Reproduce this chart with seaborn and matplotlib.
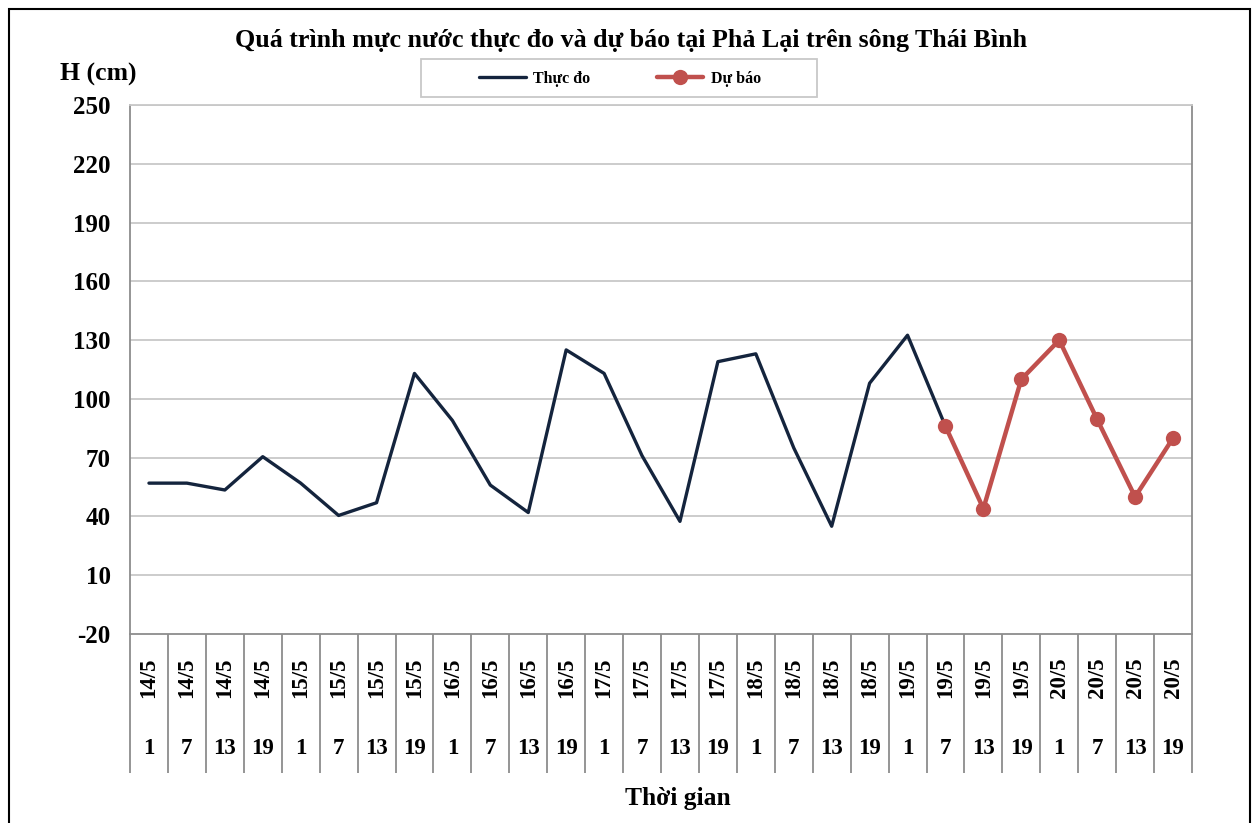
import matplotlib
matplotlib.use("Agg")
import matplotlib.pyplot as plt
import matplotlib.transforms as mtransforms
from matplotlib.patches import Rectangle
import seaborn as sns
import pandas as pd

# -----------------------------
# Data
# -----------------------------
dates = ["14/5"] * 4 + ["15/5"] * 4 + ["16/5"] * 4 + ["17/5"] * 4 + \
        ["18/5"] * 4 + ["19/5"] * 4 + ["20/5"] * 4
hours = ["1", "7", "13", "19"] * 7

observed = [57, 57, 53.5, 70.5, 57, 40.5, 47, 113, 89, 56, 42, 125,
            113, 71, 37.5, 119, 123, 75, 35, 108, 132.5, 86]
forecast = [86, 44, 110, 130, 89.5, 50, 80]

y_ticks = list(range(-20, 251, 30))

obs_df = pd.DataFrame({"pos": range(len(observed)), "H": observed})
fc_start = len(observed) - 1
fc_df = pd.DataFrame({"pos": range(fc_start, fc_start + len(forecast)), "H": forecast})

sns.set_style("white")
plt.rcParams["font.family"] = ["Liberation Serif", "DejaVu Serif"]
plt.rcParams["font.weight"] = "bold"
plt.rcParams["text.color"] = "black"
plt.rcParams["ytick.color"] = "black"

W, H = 1259, 823
fig = plt.figure(figsize=(W / 100, H / 100), dpi=100)
ax = fig.add_axes([130 / W, 1 - 634 / H, 1062 / W, 529 / H])

# gridlines
for t in y_ticks[1:]:
    ax.axhline(t, color="#c8c8c8", lw=1.3, zorder=0)

sns.lineplot(data=obs_df, x="pos", y="H", ax=ax, color="#14243d",
             linewidth=2.4, label="Thực đo", zorder=3)
sns.lineplot(data=fc_df, x="pos", y="H", ax=ax, color="#c0504d",
             linewidth=3.2, marker="o", markersize=11, markeredgewidth=0,
             label="Dự báo", zorder=4)

n = len(dates)
ax.set_xlim(-0.5, n - 0.5)
ax.set_ylim(-20, 250)
ax.set_yticks(y_ticks)
ax.set_yticklabels([str(t) for t in y_ticks], fontsize=18, fontweight="bold")
ax.set_xticks([])
ax.set_xlabel("")
ax.set_ylabel("")
ax.tick_params(axis="y", length=0, pad=14)
for side in ["left", "right", "top", "bottom"]:
    ax.spines[side].set_color("#8c8c8c")
    ax.spines[side].set_linewidth(1.3)
ax.spines["top"].set_color("#c8c8c8")

# category table below the axis
trans = mtransforms.blended_transform_factory(ax.transData, ax.transAxes)
table_bottom = -(773 - 634) / 529
ax.vlines([k - 0.5 for k in range(n + 1)], table_bottom, 0, transform=trans,
          colors="#8c8c8c", lw=1.3, clip_on=False)
for i, (d, h) in enumerate(zip(dates, hours)):
    ax.text(i, -(678 - 634) / 529, d, transform=trans, rotation=90,
            ha="center", va="center", fontsize=16.5, fontweight="bold")
    ax.text(i, -(749 - 634) / 529, h, transform=trans,
            ha="center", va="center", fontsize=16.5, fontweight="bold")

# titles
fig.text(631 / W, 1 - 40 / H, "Quá trình mực nước thực đo và dự báo tại Phả Lại trên sông Thái Bình",
         ha="center", va="center", fontsize=18.7, fontweight="bold")
fig.text(98 / W, 1 - 74 / H, "H (cm)", ha="center", va="center",
         fontsize=18.5, fontweight="bold")
fig.text(678 / W, 1 - 798 / H, "Thời gian", ha="center", va="center",
         fontsize=18.4, fontweight="bold")

# legend
ax.get_legend().remove()
handles, labels = ax.get_legend_handles_labels()
fig.legend(handles, labels, loc="center", bbox_to_anchor=(620 / W, 1 - 79 / H),
           ncol=2, frameon=False, handlelength=2.9,
           handletextpad=0.45, columnspacing=4.2,
           prop={"family": "Liberation Serif", "weight": "bold", "size": 11.5})
fig.patches.append(Rectangle((421 / W, 1 - 97 / H), 396 / W, 38 / H,
                             transform=fig.transFigure, fill=False,
                             edgecolor="#c8c8c8", lw=1.3))

# outer border
fig.patches.append(Rectangle((9 / W, -0.05), 1241 / W, 1.05 - 9 / H,
                             transform=fig.transFigure, fill=False,
                             edgecolor="black", lw=1.5))

fig.savefig("out.png", dpi=100)
